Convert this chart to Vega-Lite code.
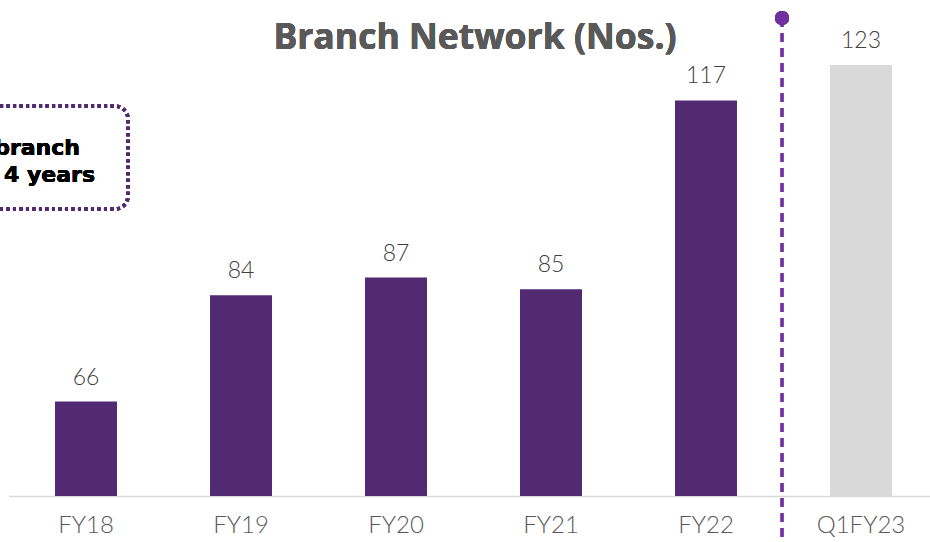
{
  "$schema": "https://vega.github.io/schema/vega-lite/v6.json",
  "width": 921.5,
  "height": 436,
  "autosize": {"type": "none"},
  "padding": {"left": 8.5, "top": 60, "right": 0, "bottom": 46},
  "background": "white",
  "config": {"view": {"stroke": null}},
  "data": {
    "values": [
      {"period": "FY18", "value": 66, "kind": "hist"},
      {"period": "FY19", "value": 84, "kind": "hist"},
      {"period": "FY20", "value": 87, "kind": "hist"},
      {"period": "FY21", "value": 85, "kind": "hist"},
      {"period": "FY22", "value": 117, "kind": "hist"},
      {"period": "Q1FY23", "value": 123, "kind": "curr"}
    ]
  },
  "layer": [
    {
      "mark": {"type": "bar"},
      "encoding": {
        "x": {
          "field": "period", "type": "nominal", "sort": null,
          "scale": {"paddingInner": 0.6, "paddingOuter": 0.3, "range": [0, 930]},
          "axis": {
            "title": null, "labelAngle": 0, "ticks": false,
            "domainColor": "#D9D9D9", "domainWidth": 1.5,
            "labelFont": "Lato", "labelFontSize": 24, "labelFontWeight": 300,
            "labelColor": "#595959", "labelPadding": 17
          }
        },
        "y": {
          "field": "value", "type": "quantitative",
          "scale": {"domain": [50, 123.84], "zero": false, "nice": false},
          "axis": null
        },
        "y2": {"datum": 50},
        "color": {
          "field": "kind", "type": "nominal",
          "scale": {"domain": ["hist", "curr"], "range": ["#512A72", "#D9D9D9"]},
          "legend": null
        }
      }
    },
    {
      "mark": {"type": "text", "baseline": "alphabetic", "dy": -17, "font": "Lato", "fontSize": 23, "fontWeight": 300, "color": "#404040"},
      "encoding": {
        "x": {"field": "period", "type": "nominal", "sort": null},
        "y": {"field": "value", "type": "quantitative"},
        "text": {"field": "value", "type": "quantitative"}
      }
    },
    {
      "mark": {"type": "text", "align": "center", "baseline": "alphabetic", "font": "Open Sans", "fontSize": 35.5, "fontWeight": "bold", "color": "#595959", "text": "Branch Network (Nos.)"},
      "encoding": {
        "x": {"datum": "FY20", "type": "nominal", "bandPosition": 1.774},
        "y": {"datum": 125.7, "type": "quantitative"}
      }
    },
    {
      "mark": {"type": "rule", "color": "#7030A0", "strokeWidth": 2.5, "strokeDash": [9, 6]},
      "encoding": {
        "x": {"datum": "Q1FY23", "type": "nominal", "bandPosition": -0.774},
        "y": {"datum": 130.95, "type": "quantitative"},
        "y2": {"datum": 41.7}
      }
    },
    {
      "mark": {"type": "point", "filled": true, "size": 200, "opacity": 1, "color": "#7030A0"},
      "encoding": {
        "x": {"datum": "Q1FY23", "type": "nominal", "bandPosition": -0.774},
        "y": {"datum": 130.95, "type": "quantitative"}
      }
    },
    {
      "mark": {"type": "rect", "cornerRadius": 13, "fill": "transparent", "stroke": "#512A72", "strokeWidth": 3.5, "strokeDash": [3, 3.5]},
      "encoding": {
        "x": {"datum": "FY18", "type": "nominal", "bandPosition": -1.2},
        "x2": {"datum": "FY18", "bandPosition": 1.177},
        "y": {"datum": 116.05, "type": "quantitative"},
        "y2": {"datum": 98.6}
      }
    },
    {
      "mark": {"type": "text", "align": "right", "baseline": "alphabetic", "font": "DejaVu Sans", "fontSize": 22, "fontWeight": "bold", "color": "#000000", "text": "branch"},
      "encoding": {
        "x": {"datum": "FY18", "type": "nominal", "bandPosition": 0.403},
        "y": {"datum": 107.8, "type": "quantitative"}
      }
    },
    {
      "mark": {"type": "text", "align": "right", "baseline": "alphabetic", "font": "DejaVu Sans", "fontSize": 22, "fontWeight": "bold", "color": "#000000", "text": "4 years"},
      "encoding": {
        "x": {"datum": "FY18", "type": "nominal", "bandPosition": 0.645},
        "y": {"datum": 103.17, "type": "quantitative"}
      }
    }
  ]
}
